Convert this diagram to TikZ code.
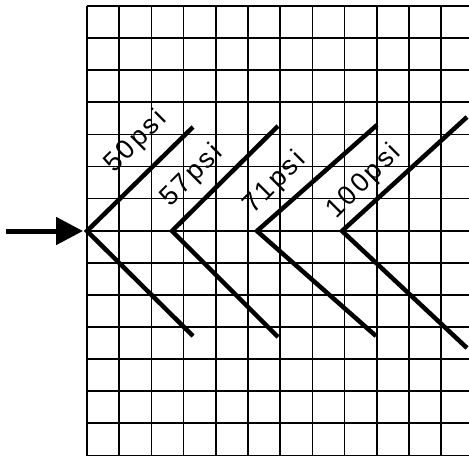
\documentclass[tikz,border=0pt]{standalone}
\usepackage{fontspec}
\newfontfamily\labfont[LetterSpace=10]{Liberation Sans}
\usetikzlibrary{arrows.meta}
\begin{document}
\begin{tikzpicture}[x=1pt,y=-1pt,
  gridline/.style={line width=1.7pt, black},
  chev/.style={line width=4.5pt, line join=miter},
  arr/.style={line width=5pt, -{Triangle[length=27pt,width=27pt]}, shorten >=4pt},
  lab/.style={font=\labfont\fontsize{27}{27}\selectfont, rotate=45, inner sep=0pt}]
\useasboundingbox (0,0) rectangle (469,456);
\fill[white] (0,0) rectangle (469,456);
% grid
\foreach \k in {0,...,11} \draw[gridline] (87+32.2*\k,6) -- (87+32.2*\k,456);
\foreach \k in {0,...,14} \draw[gridline] (87,6+32.1*\k) -- (469,6+32.1*\k);
% chevron points
\coordinate (v1) at (87,231);  \coordinate (u1) at (193,127); \coordinate (d1) at (193,336);
\coordinate (v2) at (172,231); \coordinate (u2) at (278,126); \coordinate (d2) at (278,337);
\coordinate (v3) at (257,231); \coordinate (u3) at (377,125); \coordinate (d3) at (376,336);
\coordinate (v4) at (342,231); \coordinate (u4) at (467,117); \coordinate (d4) at (467,348);
\draw[chev] (u1) -- (v1) -- (d1);
\draw[chev] (u2) -- (v2) -- (d2);
\draw[chev] (u3) -- (v3) -- (d3);
\draw[chev] (u4) -- (v4) -- (d4);
% arrow
\coordinate (a0) at (6,231);
\draw[arr] (a0) -- (v1);
% labels
\node[lab] (l1) at (136,142) {50psi};
\node[lab] (l2) at (192,176) {57psi};
\node[lab] (l3) at (275,183) {71psi};
\node[lab] (l4) at (364,182) {100psi};
\end{tikzpicture}
\end{document}
